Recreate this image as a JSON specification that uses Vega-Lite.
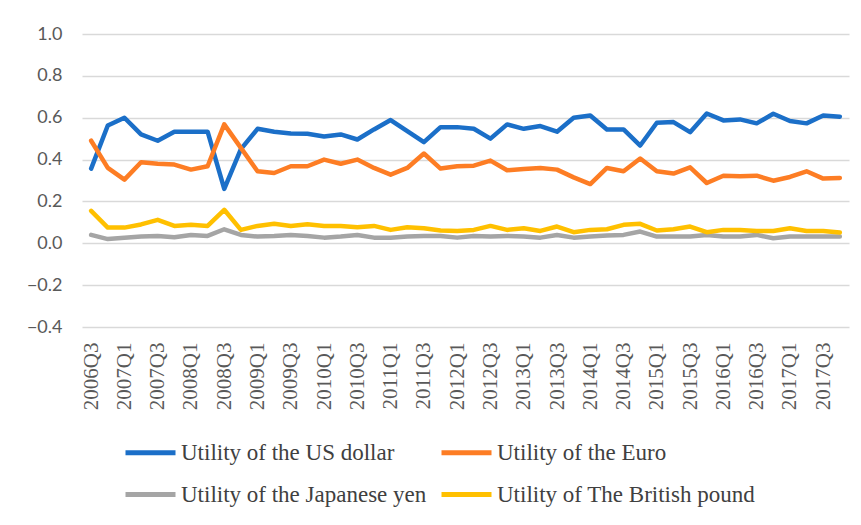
{
  "$schema": "https://vega.github.io/schema/vega-lite/v6.json",
  "autosize": {"type": "none"},
  "padding": {"left": 82, "top": 34, "right": 12, "bottom": 198},
  "width": 767,
  "height": 293,
  "background": "white",
  "config": {
    "view": {"stroke": null},
    "axis": {"labelColor": "#595959", "gridColor": "#d9d9d9", "gridWidth": 1.5}
  },
  "datasets": {
    "d": [
      {"q":"2006Q3","s":"Utility of the US dollar","v":0.357},{"q":"2006Q4","s":"Utility of the US dollar","v":0.563},{"q":"2007Q1","s":"Utility of the US dollar","v":0.600},{"q":"2007Q2","s":"Utility of the US dollar","v":0.520},{"q":"2007Q3","s":"Utility of the US dollar","v":0.490},{"q":"2007Q4","s":"Utility of the US dollar","v":0.533},{"q":"2008Q1","s":"Utility of the US dollar","v":0.533},{"q":"2008Q2","s":"Utility of the US dollar","v":0.533},{"q":"2008Q3","s":"Utility of the US dollar","v":0.260},{"q":"2008Q4","s":"Utility of the US dollar","v":0.450},{"q":"2009Q1","s":"Utility of the US dollar","v":0.547},{"q":"2009Q2","s":"Utility of the US dollar","v":0.533},{"q":"2009Q3","s":"Utility of the US dollar","v":0.525},{"q":"2009Q4","s":"Utility of the US dollar","v":0.523},{"q":"2010Q1","s":"Utility of the US dollar","v":0.510},{"q":"2010Q2","s":"Utility of the US dollar","v":0.520},{"q":"2010Q3","s":"Utility of the US dollar","v":0.496},{"q":"2010Q4","s":"Utility of the US dollar","v":0.544},{"q":"2011Q1","s":"Utility of the US dollar","v":0.589},{"q":"2011Q2","s":"Utility of the US dollar","v":0.536},{"q":"2011Q3","s":"Utility of the US dollar","v":0.483},{"q":"2011Q4","s":"Utility of the US dollar","v":0.555},{"q":"2012Q1","s":"Utility of the US dollar","v":0.555},{"q":"2012Q2","s":"Utility of the US dollar","v":0.547},{"q":"2012Q3","s":"Utility of the US dollar","v":0.500},{"q":"2012Q4","s":"Utility of the US dollar","v":0.568},{"q":"2013Q1","s":"Utility of the US dollar","v":0.547},{"q":"2013Q2","s":"Utility of the US dollar","v":0.560},{"q":"2013Q3","s":"Utility of the US dollar","v":0.533},{"q":"2013Q4","s":"Utility of the US dollar","v":0.600},{"q":"2014Q1","s":"Utility of the US dollar","v":0.611},{"q":"2014Q2","s":"Utility of the US dollar","v":0.544},{"q":"2014Q3","s":"Utility of the US dollar","v":0.544},{"q":"2014Q4","s":"Utility of the US dollar","v":0.467},{"q":"2015Q1","s":"Utility of the US dollar","v":0.576},{"q":"2015Q2","s":"Utility of the US dollar","v":0.579},{"q":"2015Q3","s":"Utility of the US dollar","v":0.531},{"q":"2015Q4","s":"Utility of the US dollar","v":0.620},{"q":"2016Q1","s":"Utility of the US dollar","v":0.587},{"q":"2016Q2","s":"Utility of the US dollar","v":0.592},{"q":"2016Q3","s":"Utility of the US dollar","v":0.573},{"q":"2016Q4","s":"Utility of the US dollar","v":0.619},{"q":"2017Q1","s":"Utility of the US dollar","v":0.584},{"q":"2017Q2","s":"Utility of the US dollar","v":0.573},{"q":"2017Q3","s":"Utility of the US dollar","v":0.611},{"q":"2017Q4","s":"Utility of the US dollar","v":0.605},
      {"q":"2006Q3","s":"Utility of the Euro","v":0.490},{"q":"2006Q4","s":"Utility of the Euro","v":0.360},{"q":"2007Q1","s":"Utility of the Euro","v":0.304},{"q":"2007Q2","s":"Utility of the Euro","v":0.387},{"q":"2007Q3","s":"Utility of the Euro","v":0.380},{"q":"2007Q4","s":"Utility of the Euro","v":0.376},{"q":"2008Q1","s":"Utility of the Euro","v":0.352},{"q":"2008Q2","s":"Utility of the Euro","v":0.368},{"q":"2008Q3","s":"Utility of the Euro","v":0.568},{"q":"2008Q4","s":"Utility of the Euro","v":0.456},{"q":"2009Q1","s":"Utility of the Euro","v":0.344},{"q":"2009Q2","s":"Utility of the Euro","v":0.336},{"q":"2009Q3","s":"Utility of the Euro","v":0.368},{"q":"2009Q4","s":"Utility of the Euro","v":0.368},{"q":"2010Q1","s":"Utility of the Euro","v":0.400},{"q":"2010Q2","s":"Utility of the Euro","v":0.380},{"q":"2010Q3","s":"Utility of the Euro","v":0.400},{"q":"2010Q4","s":"Utility of the Euro","v":0.360},{"q":"2011Q1","s":"Utility of the Euro","v":0.328},{"q":"2011Q2","s":"Utility of the Euro","v":0.360},{"q":"2011Q3","s":"Utility of the Euro","v":0.429},{"q":"2011Q4","s":"Utility of the Euro","v":0.357},{"q":"2012Q1","s":"Utility of the Euro","v":0.368},{"q":"2012Q2","s":"Utility of the Euro","v":0.371},{"q":"2012Q3","s":"Utility of the Euro","v":0.395},{"q":"2012Q4","s":"Utility of the Euro","v":0.349},{"q":"2013Q1","s":"Utility of the Euro","v":0.355},{"q":"2013Q2","s":"Utility of the Euro","v":0.360},{"q":"2013Q3","s":"Utility of the Euro","v":0.352},{"q":"2013Q4","s":"Utility of the Euro","v":0.315},{"q":"2014Q1","s":"Utility of the Euro","v":0.283},{"q":"2014Q2","s":"Utility of the Euro","v":0.360},{"q":"2014Q3","s":"Utility of the Euro","v":0.344},{"q":"2014Q4","s":"Utility of the Euro","v":0.405},{"q":"2015Q1","s":"Utility of the Euro","v":0.344},{"q":"2015Q2","s":"Utility of the Euro","v":0.333},{"q":"2015Q3","s":"Utility of the Euro","v":0.363},{"q":"2015Q4","s":"Utility of the Euro","v":0.288},{"q":"2016Q1","s":"Utility of the Euro","v":0.323},{"q":"2016Q2","s":"Utility of the Euro","v":0.320},{"q":"2016Q3","s":"Utility of the Euro","v":0.323},{"q":"2016Q4","s":"Utility of the Euro","v":0.299},{"q":"2017Q1","s":"Utility of the Euro","v":0.317},{"q":"2017Q2","s":"Utility of the Euro","v":0.344},{"q":"2017Q3","s":"Utility of the Euro","v":0.309},{"q":"2017Q4","s":"Utility of the Euro","v":0.312},
      {"q":"2006Q3","s":"Utility of the Japanese yen","v":0.040},{"q":"2006Q4","s":"Utility of the Japanese yen","v":0.020},{"q":"2007Q1","s":"Utility of the Japanese yen","v":0.027},{"q":"2007Q2","s":"Utility of the Japanese yen","v":0.032},{"q":"2007Q3","s":"Utility of the Japanese yen","v":0.035},{"q":"2007Q4","s":"Utility of the Japanese yen","v":0.029},{"q":"2008Q1","s":"Utility of the Japanese yen","v":0.040},{"q":"2008Q2","s":"Utility of the Japanese yen","v":0.035},{"q":"2008Q3","s":"Utility of the Japanese yen","v":0.067},{"q":"2008Q4","s":"Utility of the Japanese yen","v":0.040},{"q":"2009Q1","s":"Utility of the Japanese yen","v":0.032},{"q":"2009Q2","s":"Utility of the Japanese yen","v":0.035},{"q":"2009Q3","s":"Utility of the Japanese yen","v":0.040},{"q":"2009Q4","s":"Utility of the Japanese yen","v":0.035},{"q":"2010Q1","s":"Utility of the Japanese yen","v":0.027},{"q":"2010Q2","s":"Utility of the Japanese yen","v":0.032},{"q":"2010Q3","s":"Utility of the Japanese yen","v":0.040},{"q":"2010Q4","s":"Utility of the Japanese yen","v":0.027},{"q":"2011Q1","s":"Utility of the Japanese yen","v":0.027},{"q":"2011Q2","s":"Utility of the Japanese yen","v":0.032},{"q":"2011Q3","s":"Utility of the Japanese yen","v":0.035},{"q":"2011Q4","s":"Utility of the Japanese yen","v":0.035},{"q":"2012Q1","s":"Utility of the Japanese yen","v":0.027},{"q":"2012Q2","s":"Utility of the Japanese yen","v":0.035},{"q":"2012Q3","s":"Utility of the Japanese yen","v":0.032},{"q":"2012Q4","s":"Utility of the Japanese yen","v":0.035},{"q":"2013Q1","s":"Utility of the Japanese yen","v":0.032},{"q":"2013Q2","s":"Utility of the Japanese yen","v":0.027},{"q":"2013Q3","s":"Utility of the Japanese yen","v":0.040},{"q":"2013Q4","s":"Utility of the Japanese yen","v":0.027},{"q":"2014Q1","s":"Utility of the Japanese yen","v":0.032},{"q":"2014Q2","s":"Utility of the Japanese yen","v":0.037},{"q":"2014Q3","s":"Utility of the Japanese yen","v":0.040},{"q":"2014Q4","s":"Utility of the Japanese yen","v":0.056},{"q":"2015Q1","s":"Utility of the Japanese yen","v":0.032},{"q":"2015Q2","s":"Utility of the Japanese yen","v":0.032},{"q":"2015Q3","s":"Utility of the Japanese yen","v":0.032},{"q":"2015Q4","s":"Utility of the Japanese yen","v":0.040},{"q":"2016Q1","s":"Utility of the Japanese yen","v":0.032},{"q":"2016Q2","s":"Utility of the Japanese yen","v":0.032},{"q":"2016Q3","s":"Utility of the Japanese yen","v":0.040},{"q":"2016Q4","s":"Utility of the Japanese yen","v":0.024},{"q":"2017Q1","s":"Utility of the Japanese yen","v":0.032},{"q":"2017Q2","s":"Utility of the Japanese yen","v":0.032},{"q":"2017Q3","s":"Utility of the Japanese yen","v":0.032},{"q":"2017Q4","s":"Utility of the Japanese yen","v":0.032},
      {"q":"2006Q3","s":"Utility of The British pound","v":0.155},{"q":"2006Q4","s":"Utility of The British pound","v":0.075},{"q":"2007Q1","s":"Utility of The British pound","v":0.075},{"q":"2007Q2","s":"Utility of The British pound","v":0.090},{"q":"2007Q3","s":"Utility of The British pound","v":0.112},{"q":"2007Q4","s":"Utility of The British pound","v":0.083},{"q":"2008Q1","s":"Utility of The British pound","v":0.088},{"q":"2008Q2","s":"Utility of The British pound","v":0.083},{"q":"2008Q3","s":"Utility of The British pound","v":0.160},{"q":"2008Q4","s":"Utility of The British pound","v":0.064},{"q":"2009Q1","s":"Utility of The British pound","v":0.083},{"q":"2009Q2","s":"Utility of The British pound","v":0.093},{"q":"2009Q3","s":"Utility of The British pound","v":0.083},{"q":"2009Q4","s":"Utility of The British pound","v":0.091},{"q":"2010Q1","s":"Utility of The British pound","v":0.083},{"q":"2010Q2","s":"Utility of The British pound","v":0.083},{"q":"2010Q3","s":"Utility of The British pound","v":0.077},{"q":"2010Q4","s":"Utility of The British pound","v":0.083},{"q":"2011Q1","s":"Utility of The British pound","v":0.064},{"q":"2011Q2","s":"Utility of The British pound","v":0.077},{"q":"2011Q3","s":"Utility of The British pound","v":0.072},{"q":"2011Q4","s":"Utility of The British pound","v":0.061},{"q":"2012Q1","s":"Utility of The British pound","v":0.059},{"q":"2012Q2","s":"Utility of The British pound","v":0.064},{"q":"2012Q3","s":"Utility of The British pound","v":0.083},{"q":"2012Q4","s":"Utility of The British pound","v":0.064},{"q":"2013Q1","s":"Utility of The British pound","v":0.072},{"q":"2013Q2","s":"Utility of The British pound","v":0.059},{"q":"2013Q3","s":"Utility of The British pound","v":0.080},{"q":"2013Q4","s":"Utility of The British pound","v":0.053},{"q":"2014Q1","s":"Utility of The British pound","v":0.064},{"q":"2014Q2","s":"Utility of The British pound","v":0.067},{"q":"2014Q3","s":"Utility of The British pound","v":0.088},{"q":"2014Q4","s":"Utility of The British pound","v":0.093},{"q":"2015Q1","s":"Utility of The British pound","v":0.061},{"q":"2015Q2","s":"Utility of The British pound","v":0.067},{"q":"2015Q3","s":"Utility of The British pound","v":0.080},{"q":"2015Q4","s":"Utility of The British pound","v":0.053},{"q":"2016Q1","s":"Utility of The British pound","v":0.064},{"q":"2016Q2","s":"Utility of The British pound","v":0.064},{"q":"2016Q3","s":"Utility of The British pound","v":0.059},{"q":"2016Q4","s":"Utility of The British pound","v":0.059},{"q":"2017Q1","s":"Utility of The British pound","v":0.072},{"q":"2017Q2","s":"Utility of The British pound","v":0.059},{"q":"2017Q3","s":"Utility of The British pound","v":0.059},{"q":"2017Q4","s":"Utility of The British pound","v":0.051}
    ]
  },
  "data": {"name": "d"},
  "mark": {"type": "line", "strokeWidth": 4.5, "strokeJoin": "round", "strokeCap": "round"},
  "encoding": {
    "x": {
      "field": "q", "type": "ordinal", "sort": null,
      "scale": {"type": "point", "padding": 0.55},
      "axis": {
        "title": null, "domain": false, "ticks": false, "grid": false,
        "labelAngle": -90, "labelFont": "Liberation Serif", "labelFontSize": 21,
        "labelPadding": 15,
        "values": ["2006Q3","2007Q1","2007Q3","2008Q1","2008Q3","2009Q1","2009Q3","2010Q1","2010Q3","2011Q1","2011Q3","2012Q1","2012Q3","2013Q1","2013Q3","2014Q1","2014Q3","2015Q1","2015Q3","2016Q1","2016Q3","2017Q1","2017Q3"]
      }
    },
    "y": {
      "field": "v", "type": "quantitative",
      "scale": {"domain": [-0.4, 1.0], "nice": false, "zero": false},
      "axis": {
        "title": null, "domain": false, "ticks": false,
        "values": [-0.4, -0.2, 0, 0.2, 0.4, 0.6, 0.8, 1.0],
        "format": ".1f", "labelFont": "Lato", "labelFontSize": 18,
        "labelPadding": 20
      }
    },
    "color": {
      "field": "s", "type": "nominal", "sort": null,
      "scale": {
        "domain": ["Utility of the US dollar", "Utility of the Euro", "Utility of the Japanese yen", "Utility of The British pound"],
        "range": ["#1b6fc8", "#fd7d24", "#a5a5a5", "#ffc000"]
      },
      "legend": {
        "title": null, "orient": "none", "legendX": 41, "legendY": 391,
        "direction": "horizontal", "columns": 2,
        "symbolType": "stroke", "symbolSize": 2500, "symbolStrokeWidth": 5,
        "labelFont": "Liberation Serif", "labelFontSize": 23, "labelColor": "#404040",
        "labelOffset": 3, "columnPadding": 4, "rowPadding": 2, "labelLimit": 400
      }
    },
    "order": {"field": "s", "sort": "ascending"}
  }
}
